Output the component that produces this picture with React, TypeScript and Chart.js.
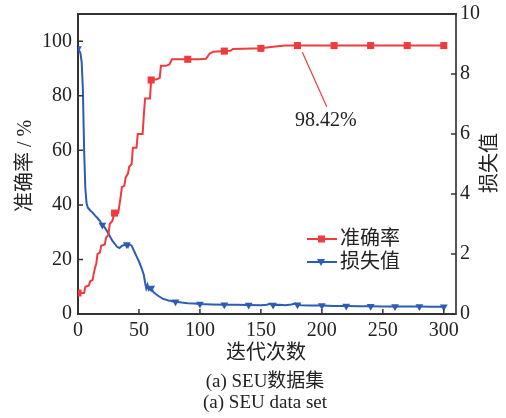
import React, { useEffect, useRef } from "react";
import { Chart, registerables } from "chart.js";

Chart.register(...registerables);

// Accuracy (%) vs iteration (left axis)
const accIter = [0, 5, 6, 9, 10, 12, 13, 14, 15, 16, 18, 19, 22, 23, 25, 26, 28, 30, 33, 34, 35, 36, 38, 39, 41, 42, 44, 45, 48, 49, 53, 54, 55, 59, 60, 62, 64, 67, 68, 72, 75, 77, 90, 100, 105, 108, 111, 120, 125, 127, 135, 150, 160, 170, 180, 210, 240, 270, 300];
const accVal = [7.7, 7.7, 10, 10.5, 12, 12.5, 15, 17, 18.5, 22, 22.5, 25, 25.5, 28, 29, 33, 34, 37, 37, 40, 43, 46.5, 47, 50, 51.5, 54, 55, 61, 61, 66, 66, 73, 79, 79, 85.8, 86, 86, 86.5, 91, 91, 91.5, 93.4, 93.4, 93.4, 93.6, 95.5, 96.2, 96.4, 96.5, 97.2, 97.3, 97.4, 98.0, 98.42, 98.42, 98.42, 98.42, 98.42, 98.42];

// Loss vs iteration (right axis)
const lossIter = [0, 2, 3, 4, 5, 6, 7, 8, 10, 12, 14, 16, 18, 20, 22, 24, 26, 28, 30, 32, 34, 36, 38, 40, 41, 42, 44, 46, 48, 50, 52, 54, 55, 56, 57, 58, 60, 62, 64, 66, 68, 70, 72, 74, 76, 78, 80, 85, 90, 95, 100, 110, 120, 130, 140, 150, 155, 157, 160, 165, 170, 175, 178, 180, 183, 190, 200, 210, 220, 230, 240, 250, 260, 270, 280, 290, 300];
const lossVal = [8.85, 8.7, 8.4, 7.5, 5.5, 4.2, 3.7, 3.55, 3.45, 3.38, 3.28, 3.2, 3.1, 2.97, 2.88, 2.75, 2.6, 2.45, 2.35, 2.24, 2.2, 2.27, 2.3, 2.32, 2.24, 2.33, 2.28, 2.1, 1.92, 1.75, 1.55, 1.3, 1.05, 0.85, 0.97, 0.8, 0.87, 0.72, 0.66, 0.6, 0.55, 0.5, 0.48, 0.45, 0.44, 0.42, 0.41, 0.38, 0.36, 0.35, 0.33, 0.32, 0.31, 0.31, 0.3, 0.29, 0.31, 0.34, 0.3, 0.31, 0.29, 0.32, 0.35, 0.31, 0.29, 0.28, 0.28, 0.27, 0.27, 0.26, 0.26, 0.25, 0.25, 0.25, 0.25, 0.24, 0.24];

const xTicks = [0, 50, 100, 150, 200, 250, 300];
const leftTicks = [0, 20, 40, 60, 80, 100];
const rightTicks = [0, 2, 4, 6, 8, 10];

const accMarkerEvery = 30;
const lossMarkerEvery = 20;

const accLabel = "准确率";
const lossLabel = "损失值";
const xTitle = "迭代次数";
const leftTitle = "准确率 / %";
const rightTitle = "损失值";
const caption1 = "(a) SEU数据集";
const caption2 = "(a) SEU data set";
const finalAccText = "98.42%";
const finalAccIter = 184;
const finalAccPoint = 96;
const finalAccLabelIter = 204;
const finalAccLabelVal = 76;

const RED = "#ef3b3e";
const BLUE = "#2d5cb4";
const AXIS = "#333333";
const SERIF = '"Liberation Serif", "Times New Roman", "Noto Sans CJK SC", serif';
const CJK = '"Liberation Serif", "Noto Sans CJK SC", serif';

export default function App() {
  const ref = useRef<HTMLCanvasElement | null>(null);

  useEffect(() => {
    document.body.style.margin = "0";
    const canvas = ref.current;
    if (!canvas) return;

    const decor = {
      id: "decor",
      afterDraw(chart: any) {
        const ctx = chart.ctx;
        const { left, right, top, bottom } = chart.chartArea;
        const sx = chart.scales.x;
        const sy = chart.scales.y;
        const sy1 = chart.scales.y1;
        ctx.save();
        // top border
        ctx.strokeStyle = AXIS;
        ctx.lineWidth = 2;
        ctx.beginPath();
        ctx.moveTo(left - 1, top);
        ctx.lineTo(right + 1, top);
        ctx.stroke();
        // inward ticks
        ctx.lineWidth = 1.5;
        ctx.beginPath();
        for (const v of xTicks) {
          const px = sx.getPixelForValue(v);
          ctx.moveTo(px, bottom);
          ctx.lineTo(px, bottom - 5);
        }
        for (const v of leftTicks) {
          const py = sy.getPixelForValue(v);
          ctx.moveTo(left, py);
          ctx.lineTo(left + 5, py);
        }
        for (const v of rightTicks) {
          const py = sy1.getPixelForValue(v);
          ctx.moveTo(right, py);
          ctx.lineTo(right - 5, py);
        }
        ctx.stroke();

        // annotation
        ctx.strokeStyle = RED;
        ctx.lineWidth = 1.2;
        ctx.beginPath();
        ctx.moveTo(sx.getPixelForValue(finalAccIter), sy.getPixelForValue(finalAccPoint));
        ctx.lineTo(sx.getPixelForValue(finalAccLabelIter), sy.getPixelForValue(finalAccLabelVal));
        ctx.stroke();
        ctx.fillStyle = "#222";
        ctx.font = "20px " + SERIF;
        ctx.textAlign = "center";
        ctx.textBaseline = "middle";
        ctx.fillText(finalAccText, sx.getPixelForValue(finalAccLabelIter) - 1, sy.getPixelForValue(finalAccLabelVal) + 14);

        // legend
        const items = [
          { label: accLabel, color: RED, style: "rect", y: 239 },
          { label: lossLabel, color: BLUE, style: "tri", y: 262 },
        ];
        for (const it of items) {
          ctx.strokeStyle = it.color;
          ctx.fillStyle = it.color;
          ctx.lineWidth = 2;
          ctx.beginPath();
          ctx.moveTo(307, it.y);
          ctx.lineTo(337, it.y);
          ctx.stroke();
          ctx.beginPath();
          if (it.style === "rect") {
            ctx.rect(318, it.y - 3.5, 7, 7);
          } else {
            ctx.moveTo(317, it.y - 3);
            ctx.lineTo(325, it.y - 3);
            ctx.lineTo(321, it.y + 4);
            ctx.closePath();
          }
          ctx.fill();
          ctx.fillStyle = "#222";
          ctx.font = "20px " + CJK;
          ctx.textAlign = "left";
          ctx.textBaseline = "middle";
          ctx.fillText(it.label, 340, it.y + 1);
        }

        // axis titles
        ctx.fillStyle = "#222";
        ctx.font = "20px " + CJK;
        ctx.textAlign = "center";
        ctx.textBaseline = "middle";
        ctx.fillText(xTitle, (left + right) / 2 - 1, 354);
        ctx.font = "19px " + CJK;
        ctx.fillText(caption1, (left + right) / 2 - 2, 382);
        ctx.fillText(caption2, (left + right) / 2 - 2, 403);

        ctx.font = "20px " + CJK;
        ctx.save();
        ctx.translate(26, 166);
        ctx.rotate(-Math.PI / 2);
        ctx.fillText(leftTitle, 0, 0);
        ctx.restore();
        ctx.save();
        ctx.translate(491, 163);
        ctx.rotate(-Math.PI / 2);
        ctx.fillText(rightTitle, 0, 0);
        ctx.restore();

        ctx.restore();
      },
    };

    const tickFont = { family: SERIF, size: 20 };
    const yTickFont = { family: SERIF, size: 20, lineHeight: 0.8 };

    const chart = new Chart(canvas, {
      type: "line",
      data: {
        datasets: [
          {
            label: accLabel,
            data: accIter.map((x, i) => ({ x, y: accVal[i] })),
            yAxisID: "y",
            borderColor: RED,
            backgroundColor: RED,
            borderWidth: 2,
            pointStyle: "rect",
            pointRadius: (c: any) => (c.raw && c.raw.x % accMarkerEvery === 0 ? 5 : 0),
            pointBorderWidth: 0,
            tension: 0,
          },
          {
            label: lossLabel,
            data: lossIter.map((x, i) => ({ x, y: lossVal[i] })),
            yAxisID: "y1",
            borderColor: BLUE,
            backgroundColor: BLUE,
            borderWidth: 2,
            pointStyle: "triangle",
            pointRotation: 180,
            pointRadius: (c: any) => (c.raw && c.raw.x % lossMarkerEvery === 0 ? 4.5 : 0),
            pointBorderWidth: 0,
            tension: 0,
          },
        ],
      },
      options: {
        animation: false,
        responsive: false,
        layout: { padding: { top: 14, left: 0, right: 0, bottom: 0 } },
        plugins: { legend: { display: false }, tooltip: { enabled: false } },
        scales: {
          x: {
            type: "linear",
            min: 0,
            max: 310,
            grid: { display: false, drawTicks: false },
            border: { display: true, color: AXIS, width: 2 },
            ticks: { font: tickFont, color: "#222", padding: 5, maxRotation: 0 },
            afterBuildTicks: (s: any) => {
              s.ticks = xTicks.map((v) => ({ value: v }));
            },
            afterFit: (s: any) => {
              s.height = 104;
            },
          },
          y: {
            type: "linear",
            position: "left",
            min: 0,
            max: 110,
            grid: { display: false, drawTicks: false },
            border: { display: true, color: AXIS, width: 2 },
            ticks: { font: yTickFont, color: "#222", padding: 6 },
            afterBuildTicks: (s: any) => {
              s.ticks = leftTicks.map((v) => ({ value: v }));
            },
            afterFit: (s: any) => {
              s.width = 78;
            },
          },
          y1: {
            type: "linear",
            position: "right",
            min: 0,
            max: 10,
            grid: { display: false, drawTicks: false },
            border: { display: true, color: "#555", width: 2 },
            ticks: { font: yTickFont, color: "#222", padding: 4 },
            afterBuildTicks: (s: any) => {
              s.ticks = rightTicks.map((v) => ({ value: v }));
            },
            afterFit: (s: any) => {
              s.width = 50;
            },
          },
        },
      } as any,
      plugins: [decor],
    });

    return () => chart.destroy();
  }, []);

  return (
    <div style={{ width: 506, height: 418 }}>
      <canvas ref={ref} width={506} height={418} style={{ display: "block", width: 506, height: 418 }} />
    </div>
  );
}
